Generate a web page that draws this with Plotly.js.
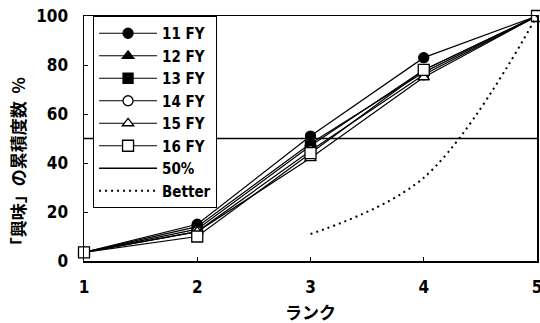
<!DOCTYPE html>
<html><head><meta charset="utf-8">
<script src="https://cdn.plot.ly/plotly-3.0.1.min.js"></script>
<style>html,body{margin:0;padding:0;background:#fff}#chart{width:540px;height:323px}</style>
</head><body><div id="chart"></div>
<script>
const ranks = [1, 2, 3, 4, 5];
const fy11 = [3.5, 15, 51, 83, 100];
const fy12 = [3.5, 14, 48, 77, 100];
const fy13 = [3.5, 13, 47, 78, 100];
const fy14 = [3.5, 12, 45, 76, 100];
const fy15 = [3.5, 12, 42, 75, 100];
const fy16 = [3.5, 10, 44, 78, 100];
const line50 = [50, 50, 50, 50, 50];
const betterX = [3, 4, 5];
const betterY = [11, 34, 100];
const names = ['11 FY', '12 FY', '13 FY', '14 FY', '15 FY', '16 FY', '50%', 'Better'];
const xTicks = [1, 2, 3, 4, 5];
const yTicks = [0, 20, 40, 60, 80, 100];
const xTitle = 'ランク';
const yTitle = '「興味」の累積度数  %';

const FONT = 'DejaVu Sans Condensed, Liberation Sans, Noto Sans CJK JP, sans-serif';
const JFONT = 'Noto Sans CJK JP, sans-serif';

const series = [fy11, fy12, fy13, fy14, fy15, fy16];
const symbols = ['circle', 'triangle-up', 'square', 'circle-open', 'triangle-up-open', 'square-open'];
const traces = series.map((ys, i) => ({
  x: ranks, y: ys, name: names[i], type: 'scatter', mode: 'lines+markers',
  line: {color: '#000', width: 1.2},
  marker: {symbol: symbols[i].replace('-open', ''), size: i === 5 ? 11 : 10,
           color: symbols[i].includes('open') ? '#fff' : '#000',
           line: {color: '#000', width: 1.3}},
  cliponaxis: false
}));
traces.push({x: ranks, y: line50, name: names[6], type: 'scatter', mode: 'lines',
  line: {color: '#000', width: 1.5}, cliponaxis: false});
traces.push({x: betterX, y: betterY, name: names[7], type: 'scatter', mode: 'lines',
  line: {color: '#000', width: 2, dash: '2px,4px', shape: 'spline', smoothing: 1}, cliponaxis: false});

const layout = {
  width: 540, height: 323,
  margin: {l: 84, r: 3, t: 16, b: 62},
  paper_bgcolor: '#fff', plot_bgcolor: '#fff',
  showlegend: true,
  legend: {x: 0.02, y: 1, xanchor: 'left', yanchor: 'top', bgcolor: '#fff',
           bordercolor: '#000', borderwidth: 1, itemwidth: 58,
           font: {family: FONT, size: 15, color: '#000', weight: 'bold'}, tracegroupgap: 0},
  xaxis: {range: [1, 5], tickvals: xTicks, ticks: 'inside', ticklen: 4, tickcolor: '#000',
          showline: true, linecolor: '#000', linewidth: 1.5, mirror: true, showgrid: false, zeroline: false,
          ticklabelstandoff: 10, ticklabeloverflow: 'allow',
          tickfont: {family: FONT, size: 17, color: '#000', weight: 'bold'}},
  yaxis: {range: [0, 100], tickvals: yTicks, ticks: 'inside', ticklen: 4, tickcolor: '#000',
          showline: true, linecolor: '#000', linewidth: 1.5, mirror: true, showgrid: false, zeroline: false,
          ticklabelstandoff: 11,
          tickfont: {family: FONT, size: 17, color: '#000', weight: 'bold'}},
  annotations: [
    {text: xTitle, xref: 'paper', yref: 'paper', x: 0.5, y: -0.148, yanchor: 'top', xanchor: 'center',
     showarrow: false, font: {family: JFONT, size: 17, color: '#000', weight: 'bold'}},
    {text: yTitle, xref: 'paper', yref: 'paper', x: -0.146, y: 0.39, xanchor: 'center', yanchor: 'middle',
     textangle: -90, showarrow: false, font: {family: JFONT, size: 17, color: '#000', weight: 'bold'}}
  ]
};
Plotly.newPlot('chart', traces, layout, {displayModeBar: false, staticPlot: true});
</script></body></html>
